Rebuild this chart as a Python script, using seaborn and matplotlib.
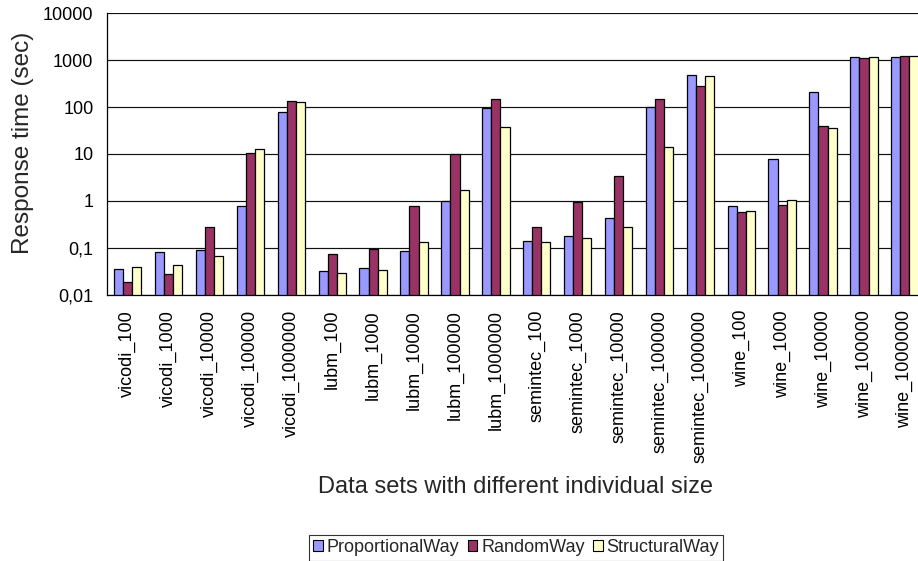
import numpy as np
import pandas as pd
import seaborn as sns
import matplotlib
matplotlib.use("Agg")
import matplotlib.pyplot as plt
from matplotlib.patches import Patch
from matplotlib.ticker import FixedLocator, FixedFormatter, NullLocator

# Response times (seconds) per data set for each partitioning strategy
datasets = [
    "vicodi_100", "vicodi_1000", "vicodi_10000", "vicodi_100000", "vicodi_1000000",
    "lubm_100", "lubm_1000", "lubm_10000", "lubm_100000", "lubm_1000000",
    "semintec_100", "semintec_1000", "semintec_10000", "semintec_100000", "semintec_1000000",
    "wine_100", "wine_1000", "wine_10000", "wine_100000", "wine_1000000",
]
proportional = [0.035, 0.082, 0.088, 0.78, 78,
                0.032, 0.0375, 0.086, 0.98, 97,
                0.14, 0.18, 0.43, 102, 480,
                0.76, 7.95, 208, 1158, 1197]
random_way = [0.019, 0.027, 0.28, 10.5, 134,
              0.072, 0.095, 0.78, 9.8, 146,
              0.28, 0.97, 3.4, 148, 284,
              0.58, 0.82, 38.8, 1122, 1200]
structural = [0.039, 0.042, 0.068, 12.6, 128,
              0.029, 0.033, 0.134, 1.71, 38,
              0.134, 0.158, 0.284, 14.1, 456,
              0.62, 1.07, 35.7, 1158, 1200]

methods = ["ProportionalWay", "RandomWay", "StructuralWay"]
colors = ["#9999FF", "#993366", "#FFFFCC"]
y_ticks = [0.01, 0.1, 1, 10, 100, 1000, 10000]
y_tick_labels = ["0,01", "0,1", "1", "10", "100", "1000", "10000"]

df = pd.DataFrame({
    "dataset": datasets * 3,
    "method": np.repeat(methods, len(datasets)),
    "time": proportional + random_way + structural,
})

sns.set_style("white")
plt.rcParams["font.family"] = ["Liberation Sans", "DejaVu Sans"]

W, H = 918, 561
fig = plt.figure(figsize=(W / 100, H / 100), dpi=100)
L, R, T, B = 107.3, 925.3, 13.3, 294.7
ax = fig.add_axes([L / W, 1 - B / H, (R - L) / W, (B - T) / H])
ax.set_yscale("log")

sns.barplot(data=df, x="dataset", y="time", hue="method", order=datasets,
            hue_order=methods, palette=colors, saturation=1, width=0.67,
            edgecolor="black", linewidth=0.9, errorbar=None, legend=False, ax=ax)

ax.set_ylim(0.01, 10000)
ax.set_xlim(-0.5, len(datasets) - 0.5)
ax.yaxis.set_major_locator(FixedLocator(y_ticks))
ax.yaxis.set_major_formatter(FixedFormatter(y_tick_labels))
ax.yaxis.set_minor_locator(NullLocator())
ax.grid(axis="y", color="#111111", linewidth=0.85)
ax.grid(axis="x", visible=False)
ax.set_axisbelow(True)

for side in ("top", "right"):
    ax.spines[side].set_visible(False)
for side in ("left", "bottom"):
    ax.spines[side].set_color("black")
    ax.spines[side].set_linewidth(0.9)

ax.tick_params(axis="y", length=0, pad=10, labelsize=13, colors="black")
ax.tick_params(axis="x", which="major", length=0, pad=11, labelsize=13,
               labelrotation=90, colors="black")
ax.set_xticks(np.arange(-0.5, len(datasets), 1), minor=True)
ax.tick_params(axis="x", which="minor", direction="in", length=4.3,
               width=0.8, color="black")
ax.set_xlabel("")
ax.set_ylabel("")

fig.text(516 / W, 1 - 493 / H, "Data sets with different individual size",
         ha="center", va="baseline", fontsize=17)
fig.text(23 / W, 1 - 142.5 / H, "Response time (sec)", rotation=90,
         ha="center", va="center", fontsize=17.5)

handles = [Patch(facecolor=c, edgecolor="black", linewidth=0.8) for c in colors]
leg = fig.legend(handles, methods, loc="upper center",
                 bbox_to_anchor=(516 / W, 1 - 534.7 / H), ncol=3, frameon=True,
                 fancybox=False, edgecolor="black", fontsize=13,
                 handlelength=0.55, handleheight=0.55, handletextpad=0.2,
                 columnspacing=0.45, borderpad=0.25, borderaxespad=0)
leg.get_frame().set_linewidth(0.8)

fig.savefig("out.png", dpi=100)
